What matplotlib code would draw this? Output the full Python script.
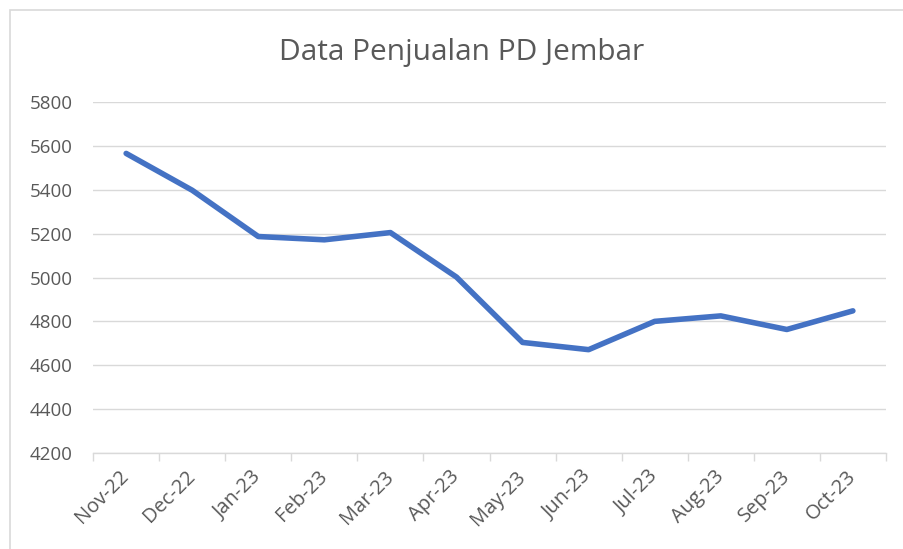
import matplotlib
matplotlib.use('Agg')
import numpy as np
import matplotlib.pyplot as plt
from matplotlib.patches import Rectangle

# Data #

months = ['Nov-22', 'Dec-22', 'Jan-23', 'Feb-23', 'Mar-23', 'Apr-23',
          'May-23', 'Jun-23', 'Jul-23', 'Aug-23', 'Sep-23', 'Oct-23']
sales = [5566, 5398, 5187, 5172, 5205, 5002,
         4704, 4671, 4800, 4825, 4763, 4848]
yticks = [4200, 4400, 4600, 4800, 5000, 5200, 5400, 5600, 5800]

# Plot #

plt.rcParams['font.family'] = ['Open Sans', 'DejaVu Sans']
grey = '#595959'

fig = plt.figure(figsize=(9.04, 5.49), dpi=100)
ax = fig.add_axes([0.103, 0.175, 0.877, 0.639])

x = np.arange(len(months))
ax.plot(x, sales, color='#4472C4', linewidth=4, solid_capstyle='round', solid_joinstyle='round')

ax.set_xlim(-0.5, len(months) - 0.5)
ax.set_ylim(yticks[0], yticks[-1])
ax.set_yticks(yticks)
ax.set_xticks(x)
ax.set_xticklabels(months, rotation=45, ha='right', va='center', rotation_mode='anchor')
ax.set_xticks(np.arange(-0.5, len(months)), minor=True)

ax.tick_params(axis='x', which='major', length=0, pad=15, labelsize=14.5, colors=grey)
ax.tick_params(axis='x', which='minor', length=6, color='#D9D9D9', width=1)
ax.tick_params(axis='y', length=0, pad=15, labelsize=13.5, colors=grey)

ax.grid(True, axis='y', color='#D9D9D9', linewidth=1)
ax.set_axisbelow(True)
for side in ['top', 'right', 'left']:
    ax.spines[side].set_visible(False)
ax.spines['bottom'].set_color('#D9D9D9')
ax.spines['bottom'].set_linewidth(1)

fig.text(0.511, 1 - 60 / 549, 'Data Penjualan PD Jembar', ha='center', va='baseline',
         fontsize=21.5, color=grey)

# chart frame, cut off at the right and bottom edges
fig.patches.append(Rectangle((10 / 904, -0.05), 1.1, 1.05 - 10 / 549, transform=fig.transFigure,
                             fill=False, edgecolor='#D9D9D9', linewidth=1.2))

fig.savefig('out.png', dpi=100, facecolor='white')
